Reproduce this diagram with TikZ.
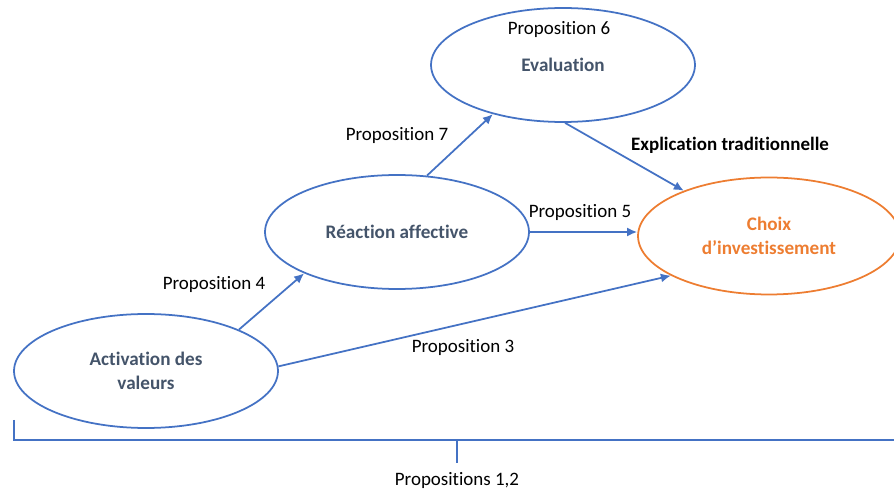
\documentclass[tikz,border=0pt]{standalone}
\usepackage{fontspec}
\setmainfont{Carlito}[Ligatures=NoCommon]
\usetikzlibrary{shapes.geometric,arrows.meta}

\definecolor{LineBlue}{RGB}{68,114,196}
\definecolor{SlateText}{RGB}{68,84,106}
\definecolor{ChoixOrange}{RGB}{237,125,49}

\begin{document}
\begin{tikzpicture}[x=0.02cm, y=-0.02cm,
        etape/.style={draw=LineBlue, ellipse, line width=1pt, minimum width=5.28cm, minimum height=2.28cm, inner sep=0pt, align=center, font=\fontsize{10.9}{14}\selectfont\bfseries, text=SlateText},
        prop/.style={font=\fontsize{10.8}{13}\selectfont, inner sep=1pt},
        fleche/.style={draw=LineBlue, line width=1pt, -{Latex[length=2mm,width=1.8mm]}}]
                \useasboundingbox (0,0) rectangle (894,493);
                \node[etape] (act) at (146,371) {Activation des\\valeurs};
                \node[etape] (reac) at (397,232) {Réaction affective};
                \node[etape] (eval) at (563,65) {Evaluation};
                \node[etape, draw=ChoixOrange, text=ChoixOrange, minimum width=5.24cm, minimum height=2.34cm] (choix) at (769,236) {Choix\\d’investissement};
                \node[prop] (p6) at (559,30) {Proposition 6};
                \node[prop] (p7) at (397,136) {Proposition 7};
                \node[prop, font=\fontsize{10.8}{13}\selectfont\bfseries] (trad) at (730,145) {Explication traditionnelle};
                \node[prop] (p5) at (580,213) {Proposition 5};
                \node[prop] (p4) at (214,285) {Proposition 4};
                \node[prop] (p3) at (463,348) {Proposition 3};
                \node[prop] (p12) at (457,481) {Propositions 1,2};
                \draw[fleche] (act.24) -- (reac.204);
                \draw[fleche] (reac.62) -- (eval.215);
                \draw[fleche] (eval.272) -- (choix.152);
                \draw[fleche] (reac.east) -- (choix.west |- reac.east);
                \draw[fleche] (act.2) -- (choix.202);
                % accolade du bas
                \coordinate (tick) at (457,440);
                \draw[LineBlue, line width=1pt] (14,420) -- (14,440) -- (894,440);
                \draw[LineBlue, line width=1pt] (tick) -- (p12.north |- 0,463);
            \end{tikzpicture}
\end{document}
